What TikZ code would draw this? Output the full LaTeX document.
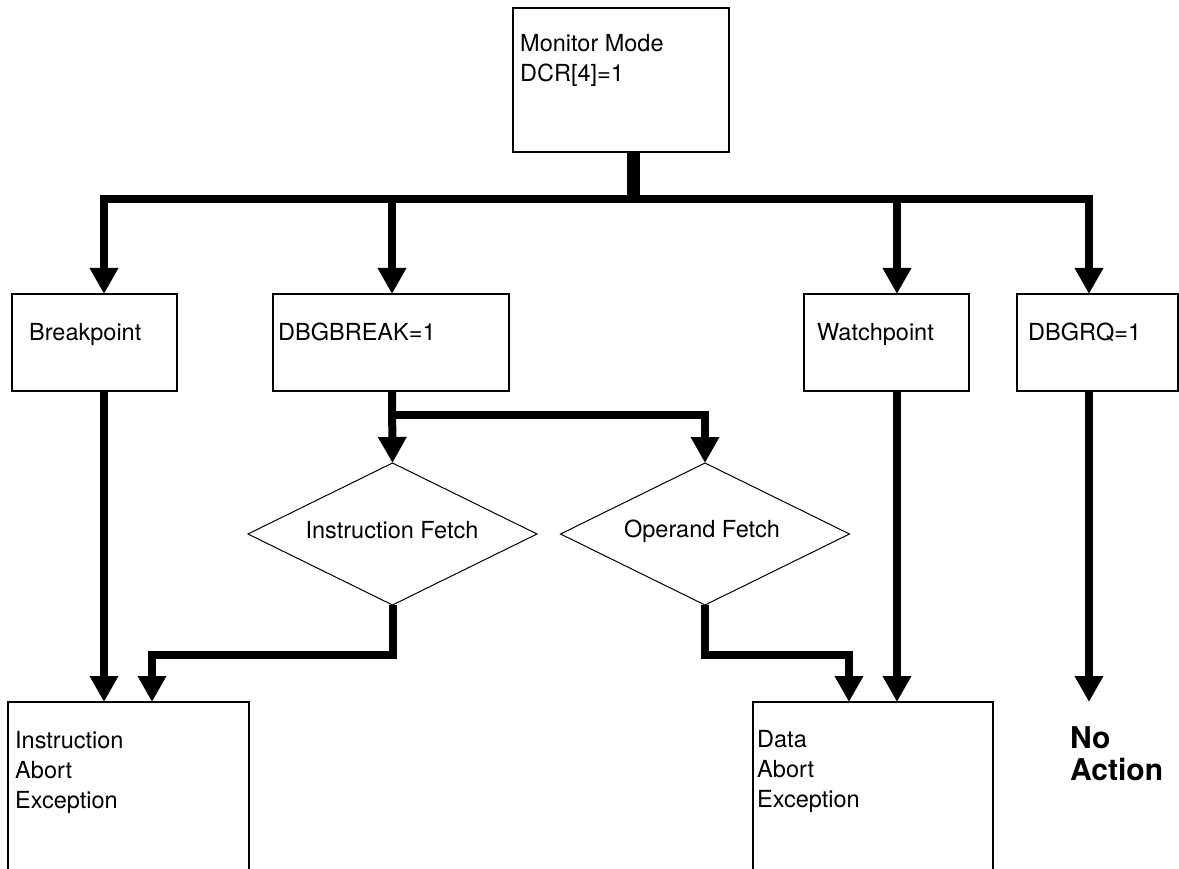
\documentclass[tikz,border=0pt]{standalone}
\usepackage{fontspec}
\setmainfont{TeX Gyre Heros}
\usetikzlibrary{arrows.meta,shapes.geometric}
\newcommand{\txtblock}[1]{\parbox[t]{260pt}{\raggedright #1}}
\tikzset{
  box/.style={draw, line width=2pt, inner sep=0pt, outer sep=0pt, rectangle},
  dia/.style={draw, line width=1pt, diamond, inner sep=0pt, outer sep=0pt, minimum width=289pt, minimum height=142pt, aspect=2.03},
  txt/.style={inner sep=0pt, anchor=base west, font=\fontsize{23.5}{30}\selectfont},
  ctxt/.style={inner sep=0pt, anchor=base, font=\fontsize{23.5}{30}\selectfont},
  btxt/.style={inner sep=0pt, anchor=base west, font=\bfseries\fontsize{30}{32}\selectfont},
  flow/.style={line width=8pt, line join=miter},
  arr/.style={flow, -{Triangle[width=27pt,length=26pt]}},
}
\begin{document}
\begin{tikzpicture}[x=1pt,y=-1pt]
\fill[white] (0,0) rectangle (1179,869);
\useasboundingbox (0,0) rectangle (1179,869);
\clip (0,0) rectangle (1179,869);

% boxes
\node[box, minimum width=216pt, minimum height=144pt] (top) at (621,80) {};
\node[box, minimum width=165pt, minimum height=97pt] (bp) at (94.5,342.5) {};
\node[box, minimum width=236pt, minimum height=97pt] (dbg) at (391,342.5) {};
\node[box, minimum width=165pt, minimum height=97pt] (wp) at (886.5,342.5) {};
\node[box, minimum width=161pt, minimum height=97pt] (rq) at (1097.5,342.5) {};
\node[box, minimum width=241pt, minimum height=198pt] (ia) at (128.5,801) {};
\node[box, minimum width=240pt, minimum height=198pt] (da) at (873,801) {};
\node[dia] (if) at (392.5,534) {};
\node[dia] (op) at (705,534) {};

% texts
\node[txt] (tTop) at (520,52) {\txtblock{Monitor Mode\\DCR[4]=1}};
\node[txt] (tBp) at (29,341) {Breakpoint};
\node[txt] (tDbg) at (278,341) {DBGBREAK=1};
\node[txt] (tWp) at (817,341) {Watchpoint};
\node[txt] (tRq) at (1028,341) {DBGRQ=1};
\node[txt] (tIa) at (15,748) {\txtblock{Instruction\\Abort\\Exception}};
\node[txt] (tDa) at (757,747) {\txtblock{Data\\Abort\\Exception}};
\node[btxt] (na) at (1070,748) {\txtblock{No\\Action}};
\node[ctxt] (tIf) at (392,538) {Instruction Fetch};
\node[ctxt] (tOp) at (702,537) {Operand Fetch};

\coordinate (J) at (633,199);
\coordinate (naTop) at (1089,702);

% connectors
\draw[line width=13pt] ([xshift=12pt]top.south) -- (J);
\draw[arr] (J) -| ([xshift=92pt]bp.north west);
\draw[arr] (J) -| ([xshift=119pt]dbg.north west);
\draw[arr] (J) -| ([xshift=93pt]wp.north west);
\draw[arr] (J) -| ([xshift=72pt]rq.north west);

\draw[arr] ([xshift=92pt]bp.south west) -- ([xshift=96pt]ia.north west);
\draw[arr] ([xshift=119pt]dbg.south west) -- (if.north);
\draw[arr] ([xshift=119pt,yshift=-24pt]dbg.south west) -| (op.north);
\draw[arr] (if.south) -- ++(0,50) -| ([xshift=144pt]ia.north west);
\draw[arr] (op.south) -- ++(0,50) -| ([xshift=96pt]da.north west);
\draw[arr] ([xshift=93pt]wp.south west) -- ([xshift=144pt]da.north west);
\draw[arr] ([xshift=72pt]rq.south west) -- (naTop);
\end{tikzpicture}
\end{document}
